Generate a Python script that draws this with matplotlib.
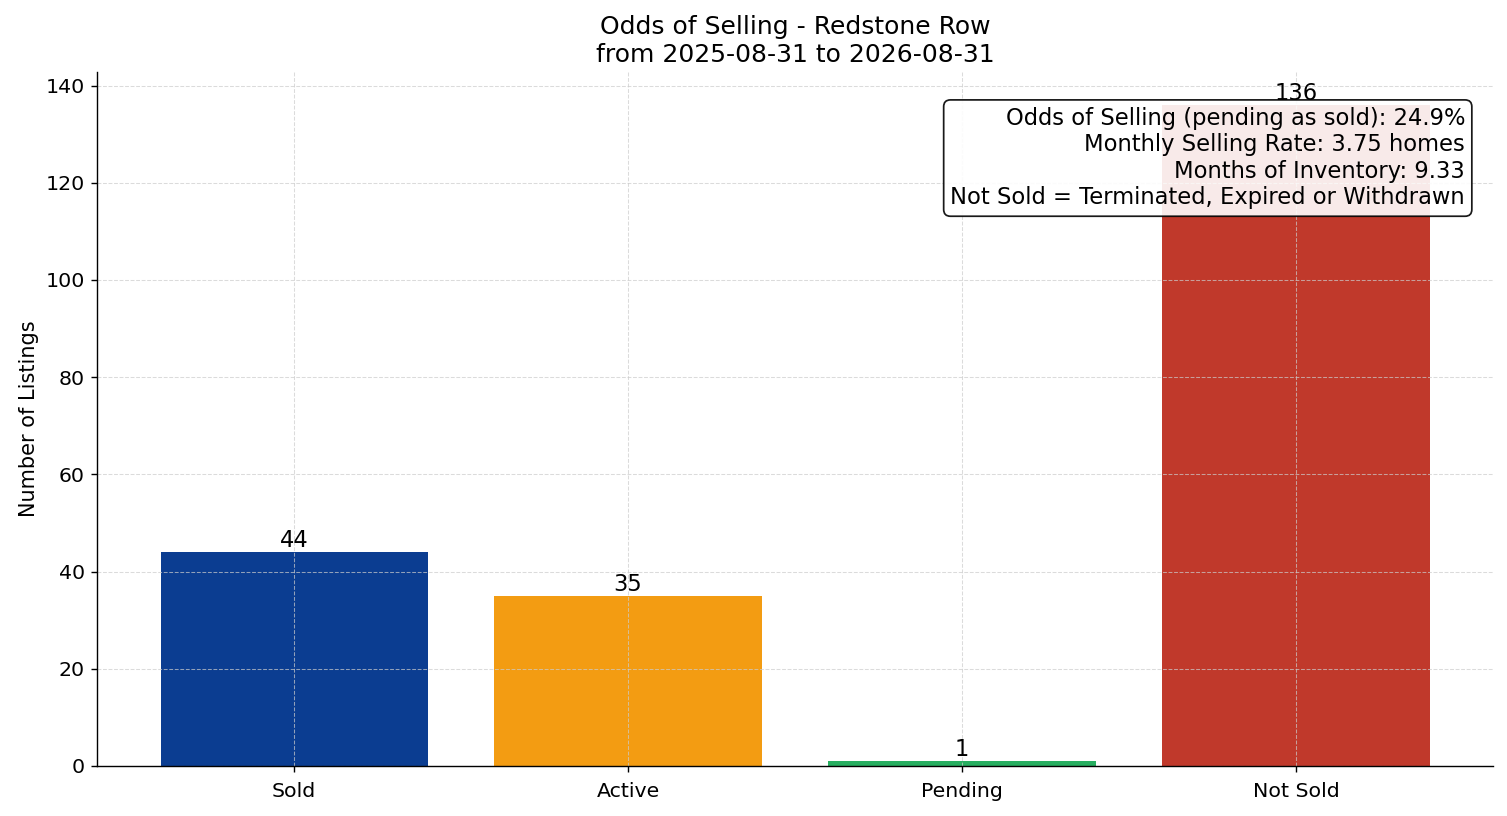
import matplotlib
matplotlib.use('Agg')
import matplotlib.pyplot as plt

# chart data
categories = ['Sold', 'Active', 'Pending', 'Not Sold']
counts = [44, 35, 1, 136]
bar_colors = ['#0B3D91', '#F39C12', '#27AE60', '#C0392B']

odds_pct = 24.9
monthly_rate = 3.75
months_inventory = 9.33

fig, ax = plt.subplots(figsize=(12.056, 6.528), dpi=125)
bars = ax.bar(categories, counts, color=bar_colors)

for b, v in zip(bars, counts):
    ax.text(b.get_x() + b.get_width() / 2, v, str(v), ha='center', va='bottom', fontsize=13)

ax.set_ylim(0, max(counts) * 1.05)
ax.set_ylabel('Number of Listings', fontsize=12)
ax.set_title('Odds of Selling - Redstone Row\nfrom 2025-08-31 to 2026-08-31', fontsize=14.4)
ax.tick_params(labelsize=11.8)
ax.tick_params(axis='x', pad=5.5)
ax.grid(True, linestyle='--', linewidth=0.6, color='#cccccc', alpha=0.7)
ax.spines['top'].set_visible(False)
ax.spines['right'].set_visible(False)

info = (f'Odds of Selling (pending as sold): {odds_pct}%\n'
        f'Monthly Selling Rate: {monthly_rate} homes\n'
        f'Months of Inventory: {months_inventory}\n'
        'Not Sold = Terminated, Expired or Withdrawn')
ax.text(0.98, 0.95, info, transform=ax.transAxes, ha='right', va='top', fontsize=13,
        bbox=dict(boxstyle='round', facecolor='white', edgecolor='black', alpha=0.9))

fig.subplots_adjust(left=0.0644, right=0.9907, top=0.9118, bottom=0.0613)
plt.savefig('out.png')
